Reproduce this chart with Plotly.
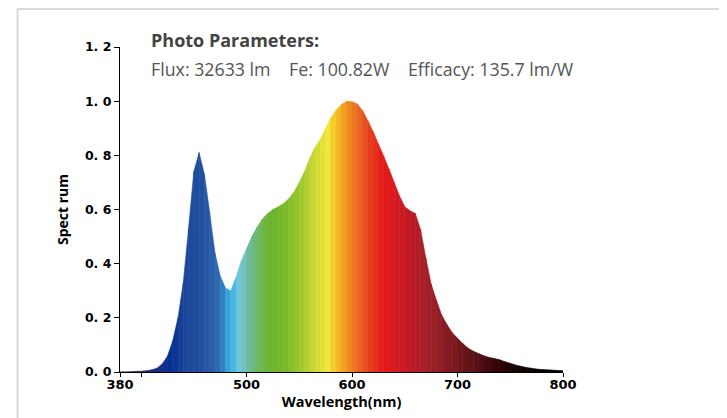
import plotly.graph_objects as go

# ---- data ----
wavelength = list(range(380, 805, 5))
spectrum = [
    0.000, 0.000, 0.001, 0.002, 0.003, 0.005, 0.008, 0.014, 0.030, 0.058,   # 380-425
    0.115, 0.200, 0.330, 0.530, 0.740, 0.810, 0.730, 0.590, 0.440, 0.355,   # 430-475
    0.310, 0.300, 0.350, 0.410, 0.455, 0.500, 0.535, 0.565, 0.585, 0.600,   # 480-525
    0.610, 0.622, 0.640, 0.665, 0.700, 0.740, 0.790, 0.830, 0.860, 0.900,   # 530-575
    0.940, 0.967, 0.988, 1.000, 0.998, 0.990, 0.965, 0.928, 0.887, 0.842,   # 580-625
    0.797, 0.750, 0.700, 0.650, 0.610, 0.595, 0.585, 0.525, 0.420, 0.325,   # 630-675
    0.265, 0.210, 0.175, 0.145, 0.125, 0.105, 0.088, 0.077, 0.068, 0.060,   # 680-725
    0.054, 0.050, 0.045, 0.038, 0.032, 0.026, 0.021, 0.017, 0.014, 0.011,   # 730-775
    0.009, 0.008, 0.007, 0.006, 0.005,                                      # 780-800
]
band_colors = [
    "#1a2560", "#1a2560", "#1a2560", "#1b2768", "#1b2a6e", "#1c2c72", "#1d2e78", "#1d3080",  # 380-415
    "#0b2f8a", "#062f8f", "#0a3592", "#183f96", "#1c4699", "#1e4a9c", "#1f4d9e", "#2250a0",  # 420-455
    "#2656a4", "#2b5ea9", "#2f6aaf", "#3280c2", "#39a2d8", "#46b8e3", "#6cc6de", "#73c2c0",  # 460-495
    "#6cbc9c", "#6ab97a", "#6cb85a", "#6cb63c", "#6bb431", "#6eb52e", "#74b72c", "#7dba2b",  # 500-535
    "#88bf2b", "#93c42c", "#a0c92e", "#b3cf31", "#c4d534", "#d4dc38", "#e4e13a", "#f2e53c",  # 540-575
    "#f5cd2c", "#f4b620", "#f29f1e", "#ef8a20", "#ec7622", "#ea6220", "#e84f1e", "#e63e1c",  # 580-615
    "#e52e1b", "#e41f1a", "#e21a1a", "#dc1a1e", "#d21a21", "#ca1a23", "#c41924", "#bd1b25",  # 620-655
    "#b11d26", "#a81f27", "#a31f27", "#9c1f26", "#931d24", "#8a1b22", "#821a20", "#7a181e",  # 660-695
    "#71171c", "#68151a", "#5f1318", "#561114", "#4c0e11", "#430b0e", "#3a070a", "#320407",  # 700-735
    "#2a0305", "#220203", "#1a0102", "#140101", "#100101", "#0c0000", "#080000", "#050000",  # 740-775
    "#030000", "#020000", "#010000", "#000000",                                              # 780-795
]
x_tick_vals = [380, 400, 500, 600, 700, 800]
x_tick_text = ["380", "", "500", "600", "700", "800"]
y_tick_vals = [0.0, 0.2, 0.4, 0.6, 0.8, 1.0, 1.2]
y_tick_text = ["0. 0", "0. 2", "0. 4", "0. 6", "0. 8", "1. 0", "1. 2"]
title_text = "Photo Parameters:"
params_text = "Flux: 32633 lm    Fe: 100.82W    Efficacy: 135.7 lm/W"

# ---- figure ----
# page has an 8px body margin; figure placed at (8, 8)
OFF = 8
W, H = 727 - OFF, 418 - OFF
L, T = 120 - OFF, 47 - OFF
PW, PH = 443, 325
R = W - L - PW
B = H - T - PH
fig = go.Figure()

for i in range(len(wavelength) - 1):
    x0, x1 = wavelength[i], wavelength[i + 1]
    y0, y1 = spectrum[i], spectrum[i + 1]
    c = band_colors[i]
    fig.add_trace(go.Scatter(
        x=[x0, x0, x1, x1, x0], y=[0, y0, y1, 0, 0],
        mode="lines", fill="toself", fillcolor=c,
        line=dict(color=c, width=0.6),
        hoverinfo="skip", showlegend=False,
    ))

fig.update_layout(
    width=W, height=H,
    margin=dict(l=L, r=R, t=T, b=B),
    paper_bgcolor="white", plot_bgcolor="white",
    showlegend=False,
    xaxis=dict(
        range=[380, 800], tickmode="array", tickvals=x_tick_vals, ticktext=x_tick_text,
        showgrid=False, zeroline=False, showline=True, linecolor="black", linewidth=1.2,
        ticks="outside", ticklen=4, tickcolor="black", tickwidth=1,
        ticklabelstandoff=-4,
        tickfont=dict(family="DejaVu Sans", size=13, color="#000000", weight="bold"),
        title=dict(text="<b>Wavelength(nm)</b>", standoff=0,
                   font=dict(family="Open Sans", size=14.5, color="#000000")),
    ),
    yaxis=dict(
        range=[0, 1.2], tickmode="array", tickvals=y_tick_vals, ticktext=y_tick_text,
        showgrid=False, zeroline=False, showline=True, linecolor="black", linewidth=1.2,
        ticks="outside", ticklen=5, tickcolor="black", tickwidth=1,
        tickfont=dict(family="DejaVu Sans", size=12.5, color="#000000", weight="bold"),
        title=dict(text="<b>Spect rum</b>", standoff=13,
                   font=dict(family="Open Sans", size=14, color="#000000")),
    ),
)

def px_to_paper_x(px):
    return (px - OFF - L) / PW
def px_to_paper_y(py):
    return (T + PH - (py - OFF)) / PH

fig.add_annotation(
    text="<b>" + title_text + "</b>", x=px_to_paper_x(149), y=px_to_paper_y(40),
    xref="paper", yref="paper", xanchor="left", yanchor="middle", showarrow=False,
    font=dict(family="Open Sans", size=18, color="#444444"),
)
fig.add_annotation(
    text=params_text, x=px_to_paper_x(149), y=px_to_paper_y(69),
    xref="paper", yref="paper", xanchor="left", yanchor="middle", showarrow=False,
    font=dict(family="Open Sans", size=17.8, color="#555555"),
)

border = dict(color="#d9d9d9", width=2)
fig.add_shape(type="line", xref="paper", yref="paper",
              x0=px_to_paper_x(17), x1=px_to_paper_x(740),
              y0=px_to_paper_y(9), y1=px_to_paper_y(9), line=border)
fig.add_shape(type="line", xref="paper", yref="paper",
              x0=px_to_paper_x(17.5), x1=px_to_paper_x(17.5),
              y0=px_to_paper_y(9), y1=px_to_paper_y(430), line=border)

fig.write_html("out.html")
